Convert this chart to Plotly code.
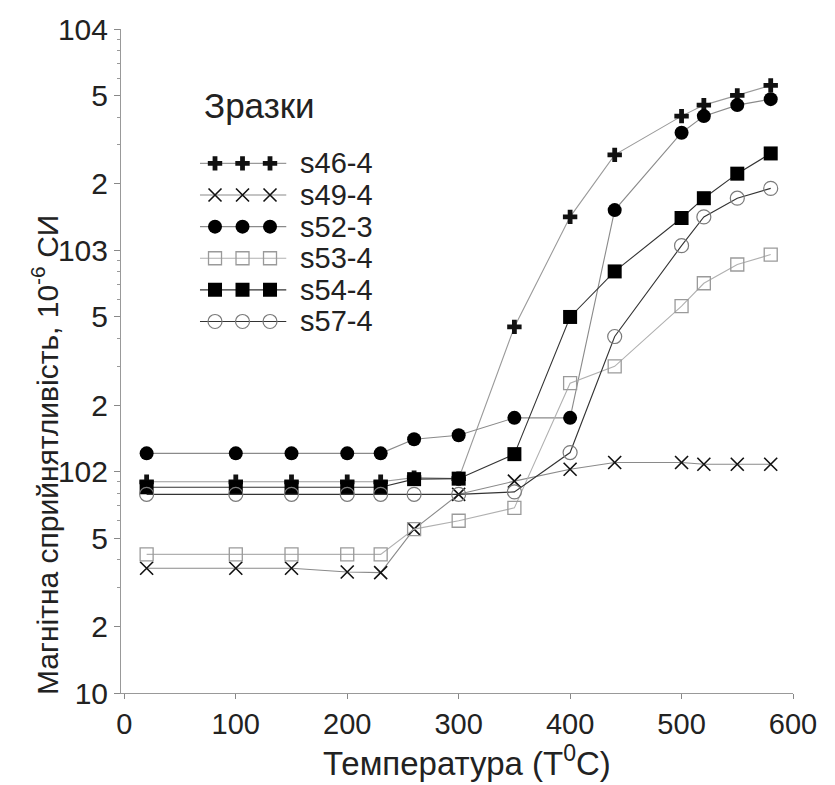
import plotly.graph_objects as go

# ---- data ----
temperature = [20, 100, 150, 200, 230, 260, 300, 350, 400, 440, 500, 520, 550, 580]
s46_4 = [90, 90, 90, 90, 90, 94, 93, 451, 1417, 2700, 4040, 4530, 5010, 5560]
s49_4 = [36.6, 36.6, 36.6, 35.2, 35, 55, 79, 90.6, 102.6, 110, 110, 108, 108, 108]
s52_3 = [121, 121, 121, 121, 121, 140, 146, 175, 175, 1520, 3400, 4040, 4530, 4820]
s53_4 = [42.3, 42.3, 42.3, 42.3, 42.3, 55, 60, 68.6, 251, 299, 560, 710, 863, 957]
s54_4 = [85, 85, 85, 85, 85, 92.5, 93, 120, 500, 803, 1400, 1720, 2220, 2740]
s57_4 = [79, 79, 79, 79, 79, 79, 79, 81, 122, 408, 1050, 1416, 1720, 1905]

series_names = ["s46-4", "s49-4", "s52-3", "s53-4", "s54-4", "s57-4"]
series_values = [s46_4, s49_4, s52_3, s53_4, s54_4, s57_4]

y_tickvals = [10, 20, 50, 100, 200, 500, 1000, 2000, 5000, 10000]
y_ticktext = ["10", "2", "5", "102", "2", "5", "103", "2", "5", "104"]
x_tickvals = [0, 100, 200, 300, 400, 500, 600]

# ---- styles ----
styles = [
    dict(symbol="cross", size=12, color="#111111", line=dict(width=0), lc="#9a9a9a"),
    dict(symbol="x-thin", size=13, color="#111111", line=dict(width=1.6, color="#111111"), lc="#8a8a8a"),
    dict(symbol="circle", size=14, color="#000000", line=dict(width=0), lc="#8a8a8a"),
    dict(symbol="square-open", size=13, color="#9a9a9a", line=dict(width=1.3, color="#9a9a9a"), lc="#b0b0b0"),
    dict(symbol="square", size=14, color="#000000", line=dict(width=0), lc="#333333"),
    dict(symbol="circle-open", size=14, color="#7a7a7a", line=dict(width=1.2, color="#7a7a7a"), lc="#333333"),
]

FONT = "Liberation Sans, Arial, sans-serif"
fig = go.Figure()

for name, vals, st in zip(series_names, series_values, styles):
    fig.add_trace(go.Scatter(
        x=temperature, y=vals, mode="lines+markers", name=name, showlegend=False,
        line=dict(color=st["lc"], width=1.1),
        marker=dict(symbol=st["symbol"], size=st["size"], color=st["color"], line=st["line"]),
        cliponaxis=False,
    ))

# ---- custom legend (three markers per entry) on a hidden overlay axis ----
legend_x = [0, 1, 2]
for i, (name, st) in enumerate(zip(series_names, styles)):
    fig.add_trace(go.Scatter(
        x=[-0.55, 2.6], y=[i, i], mode="lines", xaxis="x2", yaxis="y2",
        line=dict(color=st["lc"], width=1.1), showlegend=False, hoverinfo="skip"))
    fig.add_trace(go.Scatter(
        x=legend_x, y=[i] * 3, mode="markers", xaxis="x2", yaxis="y2",
        marker=dict(symbol=st["symbol"], size=st["size"], color=st["color"], line=st["line"]),
        showlegend=False, hoverinfo="skip"))
    fig.add_annotation(x=0.263, y=(693 - (157 + 32 * i)) / 672, xref="paper", yref="paper",
                       text=name, showarrow=False, xanchor="left", yanchor="middle",
                       font=dict(family=FONT, size=29, color="#222222"))

fig.add_annotation(x=0.120, y=0.885, xref="paper", yref="paper", text="Зразки",
                   showarrow=False, xanchor="left", yanchor="middle",
                   font=dict(family=FONT, size=35, color="#222222"))

# axis titles
fig.add_annotation(x=-0.112, y=0.358, xref="paper", yref="paper",
                   text="Магнітна сприйнятливість, 10<sup>-6</sup> СИ",
                   textangle=-90, showarrow=False, xanchor="center", yanchor="middle",
                   font=dict(family=FONT, size=30, color="#222222"))
fig.add_annotation(x=0.515, y=-0.103, xref="paper", yref="paper",
                   text="Температура (T<sup>0</sup>C)",
                   showarrow=False, xanchor="center", yanchor="middle",
                   font=dict(family=FONT, size=33, color="#222222"))

minor_vals = []
for d in [10, 100, 1000]:
    for k in range(2, 10):
        minor_vals.append(d * k)

fig.update_layout(
    width=835, height=785,
    margin=dict(l=121, r=42, t=21, b=92),
    paper_bgcolor="white", plot_bgcolor="white",
    font=dict(family=FONT, size=30, color="#222222"),
    xaxis=dict(
        range=[-3, 600], tickvals=x_tickvals, ticks="outside", ticklen=5,
        tickcolor="#888888", showline=True, linecolor="#999999", linewidth=1,
        showgrid=False, zeroline=False, tickfont=dict(size=29, color="#222222"),
    ),
    yaxis=dict(
        type="log", range=[1, 4], tickvals=y_tickvals, ticktext=y_ticktext,
        ticks="outside", ticklen=6, tickcolor="#888888",
        minor=dict(tickvals=minor_vals, ticks="outside", ticklen=3, tickcolor="#999999"),
        showline=True, linecolor="#999999", linewidth=1,
        showgrid=False, zeroline=False, tickfont=dict(size=30, color="#222222"),
    ),
    xaxis2=dict(domain=[0.1174, 0.2463], range=[-0.55, 2.6], anchor="y2",
                visible=False, fixedrange=True),
    yaxis2=dict(domain=[0.5357, 0.8214], range=[5.5, -0.5], anchor="x2",
                visible=False, fixedrange=True),
)

fig.write_html("out.html")
